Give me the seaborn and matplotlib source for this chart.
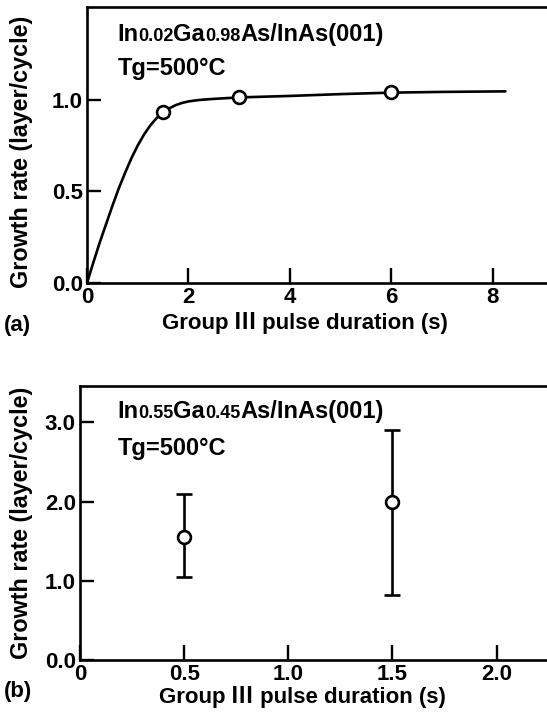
import numpy as np
import pandas as pd
import matplotlib
matplotlib.use("Agg")
import matplotlib.pyplot as plt
import seaborn as sns

# ---- data (a) ----
curve_x = [0, 0.1, 0.25, 0.4, 0.5, 0.625, 0.75, 0.875, 1.0, 1.125, 1.25, 1.375, 1.5,
           1.625, 1.75, 1.875, 2.0, 2.125, 2.25, 2.5, 2.75, 3.0, 4.0, 5.0, 6.0, 7.0, 8.25]
curve_y = [0, 0.09, 0.22, 0.34, 0.42, 0.515, 0.60, 0.68, 0.75, 0.81, 0.86, 0.90, 0.93,
           0.953, 0.970, 0.982, 0.990, 0.995, 0.999, 1.004, 1.008, 1.012, 1.02, 1.03, 1.038, 1.042, 1.045]
pts_a_x = [1.5, 3.0, 6.0]
pts_a_y = [0.93, 1.013, 1.04]

# ---- data (b) ----
pts_b_x = [0.5, 1.5]
pts_b_y = [1.55, 2.0]
err_b_low = [1.05, 0.82]
err_b_high = [2.09, 2.91]

xticks_a = [0, 2, 4, 6, 8]
yticks_a = [0.0, 0.5, 1.0]
xticks_b = [0, 0.5, 1.0, 1.5, 2.0]
xticklabels_b = ["0", "0.5", "1.0", "1.5", "2.0"]
yticks_b = [0.0, 1.0, 2.0, 3.0]

sns.set_style("ticks")
plt.rcParams['font.family'] = ['Liberation Sans', 'DejaVu Sans']
plt.rcParams['font.weight'] = 'bold'

W, H = 547, 718
fig = plt.figure(figsize=(W / 100, H / 100), dpi=100)

def px_axes(left, top, right, bottom):
    return fig.add_axes([left / W, 1 - bottom / H, (right - left) / W, (bottom - top) / H])

axa = px_axes(87, 7, 547, 283)
axb = px_axes(80, 386, 547, 660)

for ax in (axa, axb):
    for s in ("left", "top", "bottom"):
        ax.spines[s].set_linewidth(1.9)
        ax.spines[s].set_color("black")
    ax.spines["right"].set_visible(False)
    ax.tick_params(direction="in", length=10, width=1.7, labelsize=16, pad=3, colors="black")
    ax.tick_params(axis="x", pad=3, length=11)
    ax.set_facecolor("white")

# panel a
df_curve = pd.DataFrame({"x": curve_x, "y": curve_y})
sns.lineplot(data=df_curve, x="x", y="y", ax=axa, color="black", lw=1.9, sort=False)
df_pa = pd.DataFrame({"x": pts_a_x, "y": pts_a_y})
sns.scatterplot(data=df_pa, x="x", y="y", ax=axa, s=85, color="white", edgecolor="black",
                linewidth=1.9, zorder=5)
axa.set_xlim(0, 9.07)
axa.set_ylim(0, 1.505)
axa.set_xticks(xticks_a)
axa.set_xticklabels([str(v) for v in xticks_a])
axa.set_yticks(yticks_a)
axa.set_yticklabels([f"{v:.1f}" for v in yticks_a])
axa.set_xlabel("")
axa.set_ylabel("")

# panel b
axb.errorbar(pts_b_x, pts_b_y,
             yerr=[np.array(pts_b_y) - np.array(err_b_low), np.array(err_b_high) - np.array(pts_b_y)],
             fmt="none", ecolor="black", elinewidth=1.9, capsize=6, capthick=1.9, zorder=3)
df_pb = pd.DataFrame({"x": pts_b_x, "y": pts_b_y})
sns.scatterplot(data=df_pb, x="x", y="y", ax=axb, s=85, color="white", edgecolor="black",
                linewidth=1.9, zorder=5)
axb.set_xlim(0, 2.242)
axb.set_ylim(0, 3.46)
axb.set_xticks(xticks_b)
axb.set_xticklabels(xticklabels_b)
axb.set_yticks(yticks_b)
axb.set_yticklabels([f"{v:.1f}" for v in yticks_b])
axb.set_xlabel("")
axb.set_ylabel("")

# labels
lab = dict(fontweight="bold", color="black")
fig.text(22 / W, 1 - 152 / H, "Growth rate (layer/cycle)", rotation=90, ha="center", va="center",
         fontsize=16.8, **lab)
fig.text(22 / W, 1 - 523 / H, "Growth rate (layer/cycle)", rotation=90, ha="center", va="center",
         fontsize=16.8, **lab)
fig.text(4 / W, 1 - 326 / H, "(a)", ha="left", va="center", fontsize=16, **lab)
fig.text(4 / W, 1 - 691 / H, "(b)", ha="left", va="center", fontsize=16, **lab)

# compound texts built piece by piece on a shared baseline
fig.canvas.draw()
renderer = fig.canvas.get_renderer()
SANS = ['Liberation Sans', 'DejaVu Sans']
CJK = ['Noto Sans CJK JP', 'DejaVu Sans']

def seq_text(x_px, base_px, pieces, center=False):
    # pieces: (text, fontsize, family)
    arts = []
    x = 0.0
    for txt, fs, fam in pieces:
        t = fig.text(0, 1 - base_px / H, txt, ha="left", va="baseline",
                     fontsize=fs, fontweight="bold", color="black", family=fam)
        w = t.get_window_extent(renderer).width
        arts.append((t, x))
        x += w
    start = x_px - x / 2 if center else x_px
    for t, off in arts:
        t.set_x((start + off) / W)

def formula(a, b):
    return [("In", 17, SANS), (a, 13, SANS), ("Ga", 17, SANS), (b, 13, SANS), ("As/InAs(001)", 17, SANS)]

seq_text(117, 41, formula("0.02", "0.98"))
seq_text(118, 75, [("Tg=500\u00b0C", 17, SANS)])
seq_text(117, 418, formula("0.55", "0.45"))
seq_text(118, 455, [("Tg=500\u00b0C", 17, SANS)])

xlab = [("Group ", 16, SANS), ("\u2162", 16, CJK), (" pulse duration (s)", 16, SANS)]
seq_text(305, 329, xlab, center=True)
seq_text(302, 703, xlab, center=True)

fig.savefig("out.png", dpi=100, facecolor="white")
